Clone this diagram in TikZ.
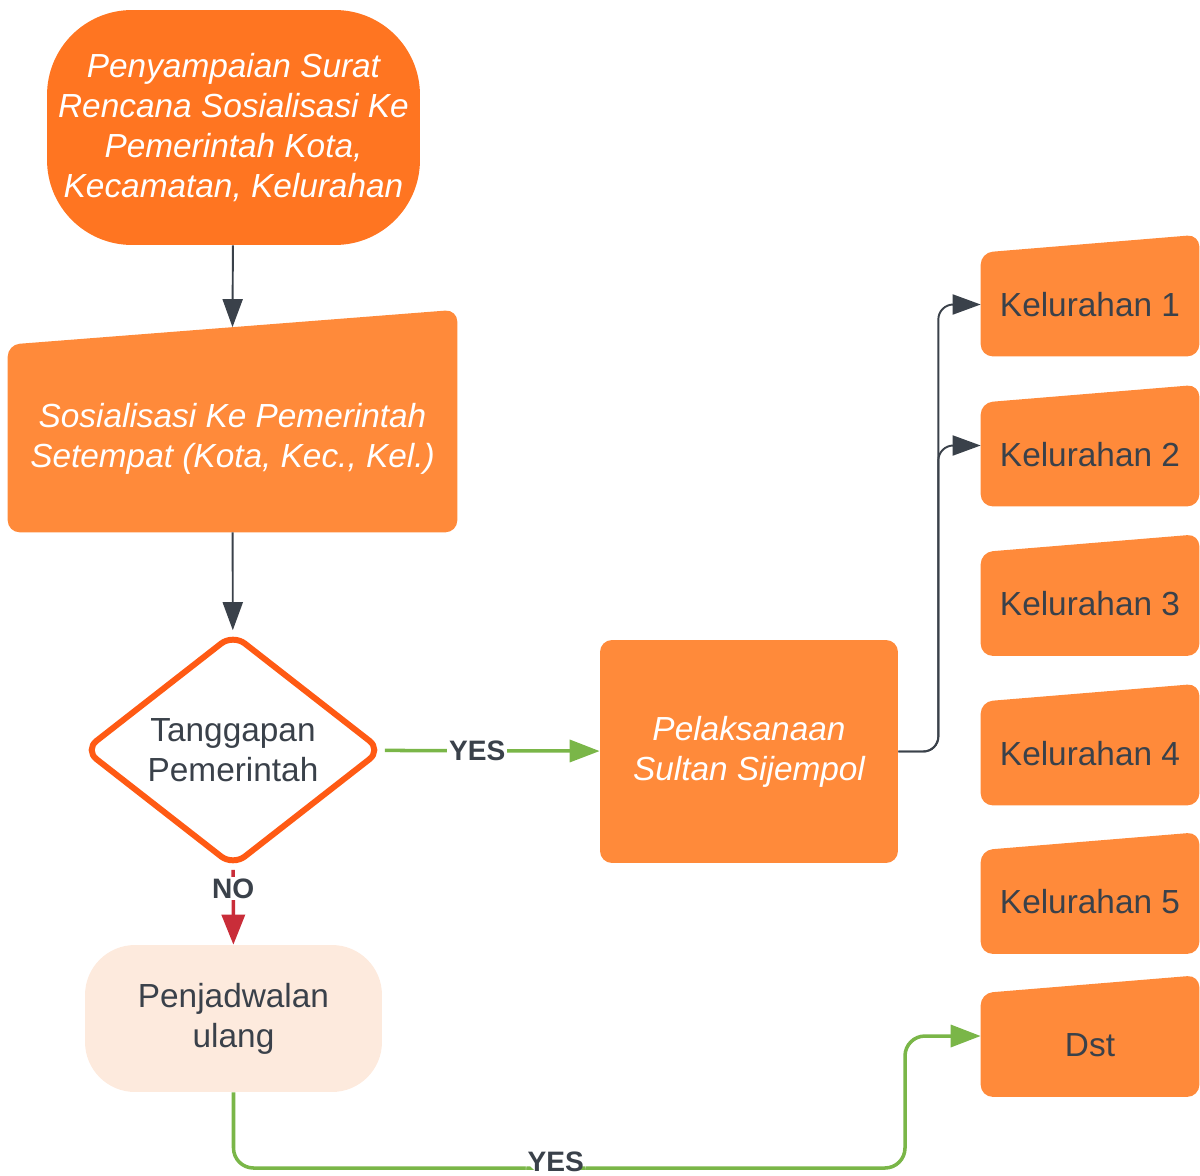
\documentclass[tikz,border=0pt]{standalone}
\usepackage{fontspec}
\setmainfont{Liberation Sans}
\usepackage{tikz}
\usetikzlibrary{positioning, arrows.meta, shapes.geometric, backgrounds}

\definecolor{lucidorange}{HTML}{FF8A3A}
\definecolor{darkorange}{HTML}{FF7521}
\definecolor{diaborder}{HTML}{FF5A14}
\definecolor{peach}{HTML}{FDEADD}
\definecolor{slate}{HTML}{3A414A}
\definecolor{lucidgreen}{HTML}{7AB648}
\definecolor{lucidred}{HTML}{C92D39}

\newcommand{\bigfont}{\fontsize{19}{22.7}\selectfont}

\tikzstyle{startbox} = [rectangle, rounded corners=1.7cm, fill=darkorange, text=white, font=\bigfont\itshape, align=center, inner sep=0pt, minimum width=7.46cm, minimum height=4.7cm]
\tikzstyle{manualbox} = [rectangle, inner sep=0pt, align=center, font=\bigfont, text=slate, minimum width=4.36cm, minimum height=2.06cm]
\tikzstyle{decision} = [diamond, draw=diaborder, line width=3.4pt, rounded corners=0.3cm, fill=white, text=slate, font=\bigfont, align=center, inner sep=0pt, minimum width=5.98cm, minimum height=4.36cm]
\tikzstyle{process} = [rectangle, rounded corners=0.24cm, fill=lucidorange, text=white, font=\bigfont\itshape, align=center, minimum width=5.96cm, minimum height=4.46cm]
\tikzstyle{terminal} = [rectangle, rounded corners=1cm, fill=peach, text=slate, font=\bigfont, align=center, minimum width=5.94cm, minimum height=2.94cm]
\tikzstyle{lbl} = [fill=white, inner sep=1pt, text=slate, font=\fontsize{16}{19}\selectfont\bfseries]
\tikzstyle{grayline} = [draw=slate, line width=1.1pt, -{Triangle[length=0.56cm, width=0.4cm]}]
\tikzstyle{greenline} = [draw=lucidgreen, line width=2pt, -{Triangle[length=0.6cm, width=0.44cm]}]
\tikzstyle{redline} = [draw=lucidred, line width=2pt, -{Triangle[length=0.6cm, width=0.46cm]}]

\begin{document}
\begin{tikzpicture}[x=0.02cm, y=-0.02cm]
  \useasboundingbox (0,0) rectangle (1200,1176);

  \node[startbox] (top) at (233.5,127.5) {Penyampaian Surat\\Rencana Sosialisasi Ke\\Pemerintah Kota,\\Kecamatan, Kelurahan};
  \node[manualbox, text=white, font=\bigfont\itshape, minimum width=8.98cm, minimum height=3.74cm] (sos) at (232.5,438.5) {Sosialisasi Ke Pemerintah\\Setempat (Kota, Kec., Kel.)};
  \node[decision] (dia) at (233,750) {Tanggapan\\Pemerintah};
  \node[process] (pel) at (749,751.5) {Pelaksanaan\\Sultan Sijempol};
  \node[terminal] (penj) at (233.5,1018.5) {Penjadwalan\\ulang};

  % kelurahan column
  \node[manualbox] (kel1) at (1090,304.5) {Kelurahan 1};
  \node[manualbox] (kel2) at (1090,454.5) {Kelurahan 2};
  \node[manualbox] (kel3) at (1090,604) {Kelurahan 3};
  \node[manualbox] (kel4) at (1090,753.5) {Kelurahan 4};
  \node[manualbox] (kel5) at (1090,902) {Kelurahan 5};
  \node[manualbox] (dst) at (1090,1045) {Dst};

  % slanted tops of the manual input boxes
  \begin{scope}[on background layer]
    \foreach \n/\s in {sos/0.7cm, kel1/0.36cm, kel2/0.36cm, kel3/0.36cm, kel4/0.36cm, kel5/0.36cm, dst/0.36cm}
      \fill[lucidorange, rounded corners=0.24cm] (\n.south west) -- (\n.south east) -- ([yshift=\s]\n.north east) -- (\n.north west) -- cycle;
  \end{scope}

  \draw[grayline] (top) -- ([yshift=0.35cm]sos.north);
  \draw[grayline] (sos) -- (dia);
  \draw[greenline] (dia) -- node[lbl, pos=0.43] {YES} (pel);
  \draw[redline] (dia) -- node[lbl, pos=0.25] {NO} (penj);
  \draw[grayline, rounded corners=0.3cm] (pel.east) -- ++(40,0) |- (kel1.west);
  \draw[grayline, rounded corners=0.3cm] (pel.east) -- ++(40,0) |- ([yshift=0.18cm]kel2.west);
  \coordinate (yesturn) at (905,1168);
  \draw[greenline, rounded corners=0.4cm] (penj.south) |- node[lbl, pos=0.74, yshift=0.12cm] {YES} (yesturn) |- ([yshift=0.18cm]dst.west);
\end{tikzpicture}
\end{document}
